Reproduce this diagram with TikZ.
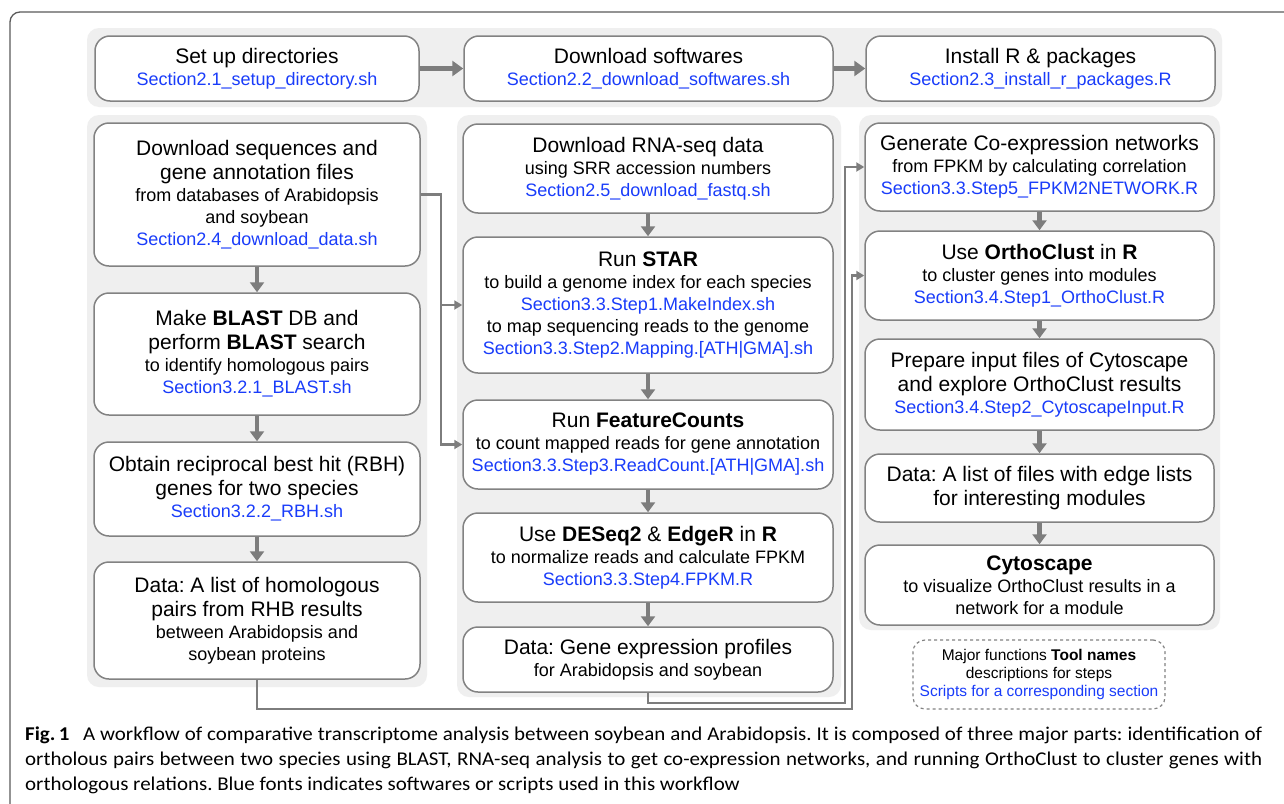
\documentclass[tikz,border=0pt]{standalone}
\usepackage{fontspec}
\setmainfont{Liberation Sans}
\newfontfamily\capfont[FakeStretch=1.075]{Carlito}
\usetikzlibrary{arrows.meta}
\frenchspacing
\definecolor{scriptblue}{RGB}{25,60,250}
\definecolor{panelgray}{RGB}{239,239,239}
\definecolor{boxgray}{RGB}{130,130,130}
\definecolor{arrowgray}{RGB}{125,125,125}
\definecolor{framegray}{RGB}{90,90,90}
\newcommand\ftitle{\fontsize{21}{24}\selectfont}
\newcommand\fsub{\fontsize{18}{22}\selectfont}
\newcommand\fblue{\fontsize{18}{22}\selectfont\color{scriptblue}}
\newcommand\flegend{\fontsize{15.5}{18}\selectfont}
\tikzset{
  box/.style={draw=boxgray, line width=1.5pt, fill=white, rounded corners=15pt,
    align=center, inner sep=0pt, font=\fontsize{18}{22}\selectfont},
  panel/.style={fill=panelgray, draw=none, rounded corners=12pt},
  flow/.style={draw=arrowgray, line width=4.5pt, -{Triangle[width=14pt,length=10pt]}},
  bigflow/.style={draw=arrowgray, line width=5pt, -{Triangle[width=15pt,length=11pt]}},
  conn/.style={draw=arrowgray, line width=2.6pt, -{Triangle[width=9pt,length=8pt]}},
  legendbox/.style={draw=boxgray, line width=1.2pt, dashed, rounded corners=12pt,
    align=center, inner sep=0pt, font=\flegend},
  captext/.style={anchor=west, inner sep=0pt, font=\capfont\fontsize{19.5}{25}\selectfont},
}
\begin{document}
\begin{tikzpicture}[x=1pt,y=-1pt]
\useasboundingbox (0,0) rectangle (1284,803);
\fill[white] (0,0) rectangle (1284,803);
\begin{scope}
  \clip (0,0) rectangle (1284,803);
  \draw[framegray, line width=1.3pt, rounded corners=10pt] (10,12) rectangle (1320,840);
\end{scope}

% panels
\fill[panel] (87,28) rectangle (1222,107);
\fill[panel] (87,115) rectangle (427,687);
\fill[panel] (457,115) rectangle (841,697);
\fill[panel] (859,115) rectangle (1220,630);

% top row
\node[box, minimum width=324pt, minimum height=65pt] (T1) at (257,68.5)
  {\ftitle Set up directories\\\fblue Section2.1\_setup\_directory.sh};
\node[box, minimum width=369pt, minimum height=65pt] (T2) at (648.5,68.5)
  {\ftitle Download softwares\\\fblue Section2.2\_download\_softwares.sh};
\node[box, minimum width=349pt, minimum height=65pt] (T3) at (1040.5,68.5)
  {\ftitle Install R \& packages\\\fblue Section2.3\_install\_r\_packages.R};

% left column
\node[box, minimum width=326pt, minimum height=143pt] (L1) at (257,194.5)
  {\ftitle Download sequences and\\[2pt]\ftitle gene annotation files\\\fsub from databases of Arabidopsis\\\fsub and soybean\\\fblue Section2.4\_download\_data.sh};
\node[box, minimum width=326pt, minimum height=122pt] (L2) at (257,354)
  {\ftitle Make \textbf{BLAST} DB and\\[2pt]\ftitle perform \textbf{BLAST} search\\\fsub to identify homologous pairs\\\fblue Section3.2.1\_BLAST.sh};
\node[box, minimum width=326pt, minimum height=94pt] (L3) at (257,489)
  {\ftitle Obtain reciprocal best hit (RBH)\\[2pt]\ftitle genes for two species\\\fblue Section3.2.2\_RBH.sh};
\node[box, minimum width=326pt, minimum height=117pt] (L4) at (257,620.5)
  {\ftitle Data: A list of homologous\\[2pt]\ftitle pairs from RHB results\\\fsub between Arabidopsis and\\\fsub soybean proteins};

% middle column
\node[box, minimum width=370pt, minimum height=89pt] (M1) at (648,168.5)
  {\ftitle Download RNA-seq data\\\fsub using SRR accession numbers\\\fblue Section2.5\_download\_fastq.sh};
\node[box, minimum width=370pt, minimum height=136pt] (M2) at (648,305)
  {\ftitle Run \textbf{STAR}\\\fsub to build a genome index for each species\\\fblue Section3.3.Step1.MakeIndex.sh\\\fsub to map sequencing reads to the genome\\\fblue Section3.3.Step2.Mapping.[ATH|GMA].sh};
\node[box, minimum width=370pt, minimum height=89pt] (M3) at (648,444.5)
  {\ftitle Run \textbf{FeatureCounts}\\\fsub to count mapped reads for gene annotation\\\fblue Section3.3.Step3.ReadCount.[ATH|GMA].sh};
\node[box, minimum width=370pt, minimum height=89pt] (M4) at (648,557.5)
  {\ftitle Use \textbf{DESeq2} \& \textbf{EdgeR} in \textbf{R}\\\fsub to normalize reads and calculate FPKM\\\fblue Section3.3.Step4.FPKM.R};
\node[box, minimum width=370pt, minimum height=65pt] (M5) at (648,659.5)
  {\ftitle Data: Gene expression profiles\\\fsub for Arabidopsis and soybean};

% right column
\node[box, minimum width=349pt, minimum height=88pt] (R1) at (1039.5,167)
  {\ftitle Generate Co-expression networks\\\fsub from FPKM by calculating correlation\\\fblue Section3.3.Step5\_FPKM2NETWORK.R};
\node[box, minimum width=349pt, minimum height=89pt] (R2) at (1039.5,275.5)
  {\ftitle Use \textbf{OrthoClust} in \textbf{R}\\\fsub to cluster genes into modules\\\fblue Section3.4.Step1\_OrthoClust.R};
\node[box, minimum width=349pt, minimum height=91pt] (R3) at (1039.5,384.5)
  {\ftitle Prepare input files of Cytoscape\\[2pt]\ftitle and explore OrthoClust results\\\fblue Section3.4.Step2\_CytoscapeInput.R};
\node[box, minimum width=349pt, minimum height=68pt] (R4) at (1039.5,488)
  {\ftitle Data: A list of files with edge lists\\[2pt]\ftitle for interesting modules};
\node[box, minimum width=349pt, minimum height=80pt] (R5) at (1039.5,585)
  {\ftitle\bfseries Cytoscape\\\fsub to visualize OrthoClust results in a\\\fsub network for a module};

% legend
\node[legendbox, minimum width=252pt, minimum height=69pt] (LG) at (1039,674.5)
  {\flegend Major functions \textbf{Tool names}\\\flegend descriptions for steps\\\flegend\color{scriptblue}Scripts for a corresponding section};

% top arrows
\draw[bigflow] (T1.east) -- (T2.west);
\draw[bigflow] (T2.east) -- (T3.west);

% column arrows
\draw[flow] (L1.south) -- (L2.north);
\draw[flow] (L2.south) -- (L3.north);
\draw[flow] (L3.south) -- (L4.north);
\draw[flow] (M1.south) -- (M2.north);
\draw[flow] (M2.south) -- (M3.north);
\draw[flow] (M3.south) -- (M4.north);
\draw[flow] (M4.south) -- (M5.north);
\draw[flow] (R1.south) -- (R2.north);
\draw[flow] (R2.south) -- (R3.north);
\draw[flow] (R3.south) -- (R4.north);
\draw[flow] (R4.south) -- (R5.north);

% cross connectors
\coordinate (j0) at (441,194.5);
\coordinate (j1) at (441,305);
\draw[conn] (L1.east) -- (j0) |- (M3.west);
\draw[conn] (j1) -- (M2.west);
\coordinate (c1) at (845,703);
\coordinate (c2) at (852,709);
\draw[conn] (M5.south) |- (c1) |- (R1.west);
\draw[conn] (L4.south) |- (c2) |- (R2.west);

% caption
\node[captext] (cap1) at (25,735)
  {\makebox[1237pt][s]{\mbox{\textbf{Fig.\,1}}\hspace{0.7em}A workflow of comparative transcriptome analysis between soybean and Arabidopsis. It is composed of three major parts: identification of}};
\node[captext] (cap2) at (25,760)
  {\makebox[1237pt][s]{ortholous pairs between two species using BLAST, RNA-seq analysis to get co-expression networks, and running OrthoClust to cluster genes with}};
\node[captext] (cap3) at (25,785)
  {orthologous relations. Blue fonts indicates softwares or scripts used in this workflow};
\end{tikzpicture}
\end{document}
